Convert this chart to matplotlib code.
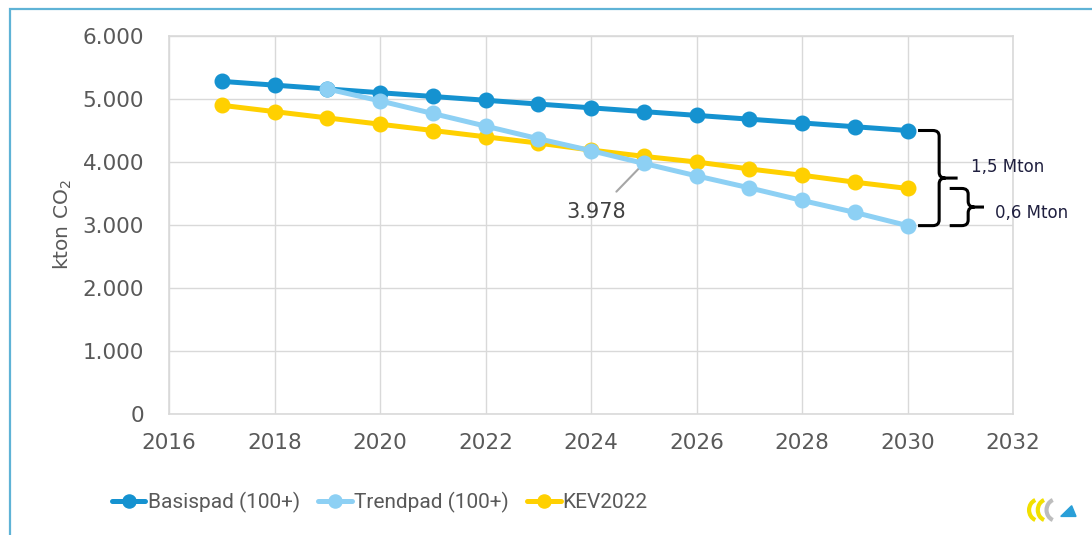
import matplotlib

matplotlib.use("Agg")
import matplotlib.pyplot as plt
from matplotlib.path import Path
from matplotlib.patches import PathPatch, Rectangle, Arc, Polygon

YEARS = list(range(2017, 2031))
BASISPAD = [5280, 5220, 5160, 5100, 5040, 4980, 4920, 4860, 4800, 4740, 4680, 4620, 4560, 4500]
TREND_YEARS = list(range(2019, 2031))
TRENDPAD = [5160, 4970, 4770, 4570, 4370, 4180, 3978, 3780, 3590, 3390, 3200, 2990]
KEV2022 = [4900, 4800, 4700, 4600, 4500, 4400, 4300, 4190, 4090, 4000, 3890, 3790, 3680, 3580]

Y_TICKS = [0, 1000, 2000, 3000, 4000, 5000, 6000]
Y_LABELS = ["0", "1.000", "2.000", "3.000", "4.000", "5.000", "6.000"]
X_TICKS = list(range(2016, 2033, 2))

COLOR_BASIS = "#1592d0"
COLOR_TREND = "#8dd0f4"
COLOR_KEV = "#ffd000"
COLOR_TEXT = "#595959"
COLOR_GRID = "#d9d9d9"
COLOR_FRAME = "#5fb3d6"

plt.rcParams["font.family"] = ["DejaVu Sans"]

fig = plt.figure(figsize=(10.92, 5.35), dpi=100)
ax = fig.add_axes([169 / 1092, 1 - 414 / 535, (1013 - 169) / 1092, (414 - 36) / 535])

# outer frame (only left and top edges visible in the original)
fig.patches.append(Rectangle((10 / 1092, -0.1), 1.2, 1 - 9 / 535 + 0.1, transform=fig.transFigure,
                             fill=False, edgecolor=COLOR_FRAME, linewidth=1.6))

kw = dict(linewidth=3.6, marker="o", markersize=10.5, solid_capstyle="round")
ax.plot(YEARS, BASISPAD, color=COLOR_BASIS, label="Basispad (100+)", zorder=3, **kw)
ax.plot(TREND_YEARS, TRENDPAD, color=COLOR_TREND, label="Trendpad (100+)", zorder=4, **kw)
ax.plot(YEARS, KEV2022, color=COLOR_KEV, label="KEV2022", zorder=2, **kw)

ax.set_xlim(2016, 2032)
ax.set_ylim(0, 6000)
ax.set_xticks(X_TICKS)
ax.set_yticks(Y_TICKS)
ax.set_yticklabels(Y_LABELS)
ax.tick_params(length=0, labelsize=15.5, colors=COLOR_TEXT)
ax.tick_params(axis="y", pad=18)
ax.tick_params(axis="x", pad=14)
ax.grid(True, color=COLOR_GRID, linewidth=1)
ax.set_axisbelow(True)
for spine in ax.spines.values():
    spine.set_color(COLOR_GRID)
    spine.set_linewidth(1.2)
ax.set_ylabel("kton CO$_2$", fontsize=14.5, color=COLOR_TEXT, labelpad=6)

# annotation of the 2025 trendpad value
i25 = TREND_YEARS.index(2025)
val = TRENDPAD[i25]
ax.annotate(f"{val:,}".replace(",", "."), xy=(2025, val), xytext=(2024.1, 3200),
            fontsize=15, color="#404040", ha="center", va="center",
            arrowprops=dict(arrowstyle="-", color="#a6a6a6", linewidth=1.5, shrinkA=8, shrinkB=4))


def brace(x0, x1, xt, y_top, y_bot, rx, ry):
    ym = (y_top + y_bot) / 2
    verts = [
        (x0, y_top), (x1 - rx, y_top), (x1, y_top), (x1, y_top - ry),
        (x1, ym + ry), (x1, ym), (x1 + rx, ym), (xt, ym),
        (x1 + rx, ym), (x1, ym), (x1, ym - ry),
        (x1, y_bot + ry), (x1, y_bot), (x1 - rx, y_bot), (x0, y_bot),
    ]
    codes = [Path.MOVETO, Path.LINETO, Path.CURVE3, Path.CURVE3,
             Path.LINETO, Path.CURVE3, Path.CURVE3, Path.LINETO,
             Path.MOVETO, Path.CURVE3, Path.CURVE3,
             Path.LINETO, Path.CURVE3, Path.CURVE3, Path.LINETO]
    p = PathPatch(Path(verts, codes), fill=False, edgecolor="black", linewidth=2.2,
                  clip_on=False, capstyle="butt")
    ax.add_patch(p)


rx, ry = 0.12, 90
brace(2030.2, 2030.6, 2030.95, BASISPAD[-1], TRENDPAD[-1], rx, ry)
brace(2030.8, 2031.15, 2031.45, KEV2022[-1], TRENDPAD[-1], rx, ry)
diff_big = (BASISPAD[-1] - TRENDPAD[-1]) / 1000
diff_small = (KEV2022[-1] - TRENDPAD[-1]) / 1000
ax.text(2031.2, (BASISPAD[-1] + TRENDPAD[-1]) / 2 + 170, f"{diff_big:.1f} Mton".replace(".", ","),
        fontsize=12, color="#1f1f3f", va="center", clip_on=False)
ax.text(2031.65, (KEV2022[-1] + TRENDPAD[-1]) / 2 - 100, f"{diff_small:.1f} Mton".replace(".", ","),
        fontsize=12, color="#1f1f3f", va="center", clip_on=False)

leg = fig.legend(loc="center", bbox_to_anchor=(380 / 1092, 1 - 502 / 535), ncol=3, frameon=False,
                 prop={"family": ["Roboto", "DejaVu Sans"], "size": 15},
                 handlelength=1.6, handletextpad=0.1, columnspacing=0.9, markerscale=0.9)
for t in leg.get_texts():
    t.set_color(COLOR_TEXT)

# small logo in the lower right corner
lx, ly = 1052 / 1092, 1 - 510 / 535
for dx, col in [(-0.012, "#f2e000"), (-0.004, "#f2e000"), (0.004, "#bdbdbd")]:
    fig.patches.append(Arc((lx + dx, ly), 0.018, 0.04, theta1=100, theta2=260,
                           transform=fig.transFigure, color=col, linewidth=3))
fig.patches.append(Polygon([(lx + 0.008, ly - 0.012), (lx + 0.022, ly - 0.012), (lx + 0.018, ly + 0.008)],
                           closed=True, transform=fig.transFigure, color="#2a9fd8"))

fig.savefig("out.png", dpi=100)
